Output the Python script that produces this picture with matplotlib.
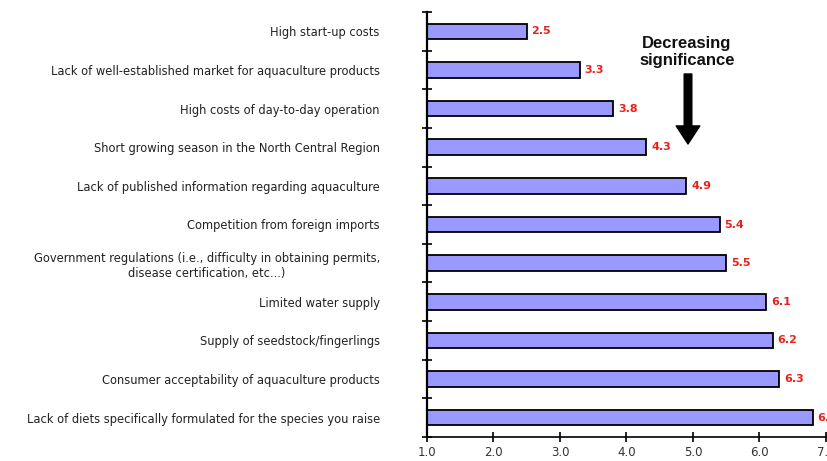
import matplotlib
matplotlib.use("Agg")
import matplotlib.pyplot as plt
from matplotlib.ticker import FixedLocator, FormatStrFormatter
import numpy as np

plt.rcParams['font.family'] = ['DejaVu Sans']

# Constraints to aquaculture, mean ranking (lower = more significant)
categories = [
    "High start-up costs",
    "Lack of well-established market for aquaculture products",
    "High costs of day-to-day operation",
    "Short growing season in the North Central Region",
    "Lack of published information regarding aquaculture",
    "Competition from foreign imports",
    "Government regulations (i.e., difficulty in obtaining permits,\ndisease certification, etc...)",
    "Limited water supply",
    "Supply of seedstock/fingerlings",
    "Consumer acceptability of aquaculture products",
    "Lack of diets specifically formulated for the species you raise",
]
scores = [2.5, 3.3, 3.8, 4.3, 4.9, 5.4, 5.5, 6.1, 6.2, 6.3, 6.8]
x_ticks = [1.0, 2.0, 3.0, 4.0, 5.0, 6.0, 7.0]

fig = plt.figure(figsize=(8.28, 4.61), dpi=100)
ax = fig.add_axes([427 / 828, 1 - 437 / 461, (826 - 427) / 828, (437 - 12) / 461])

y = np.arange(len(categories))
ax.barh(y, scores, height=0.4, color="#9999ff", edgecolor="black", linewidth=1.3, zorder=2)

for yi, v in zip(y, scores):
    ax.text(v + 0.07, yi, f"{v:.1f}", color="#e8221b", fontsize=8, fontweight="bold",
            va="center", ha="left", clip_on=False)

ax.set_xlim(1.0, 7.0)
ax.set_ylim(len(categories) - 0.5, -0.5)

ax.set_xticks(x_ticks)
ax.xaxis.set_major_formatter(FormatStrFormatter("%.1f"))
ax.tick_params(axis="x", direction="inout", length=7, width=1.2, labelsize=8.5,
               labelcolor="#333333", pad=3)

ax.set_yticks(y)
ax.set_yticklabels(categories, fontsize=8.3, color="#222222", multialignment="center",
                   linespacing=1.25)
ax.yaxis.set_minor_locator(FixedLocator(np.arange(len(categories) + 1) - 0.5))
ax.tick_params(axis="y", which="major", length=0, pad=34)
ax.tick_params(axis="y", which="minor", direction="inout", length=7, width=1.2)

for side in ("top", "right"):
    ax.spines[side].set_visible(False)
ax.spines["left"].set_linewidth(1.6)
ax.spines["bottom"].set_linewidth(1.2)

fig.text(687 / 828, 1 - 52 / 461, "Decreasing\nsignificance", ha="center", va="center",
         fontsize=12, fontweight="bold", color="#111111", linespacing=1.2,
         family="Liberation Sans")
ax.annotate("", xy=(688 / 828, 1 - 144 / 461), xytext=(688 / 828, 1 - 74 / 461),
            xycoords="figure fraction", textcoords="figure fraction",
            arrowprops=dict(arrowstyle="simple,head_width=1.7,head_length=1.3,tail_width=0.55",
                            mutation_scale=10, fc="black", ec="black", shrinkA=0, shrinkB=0))

fig.savefig("out.png", dpi=100)
